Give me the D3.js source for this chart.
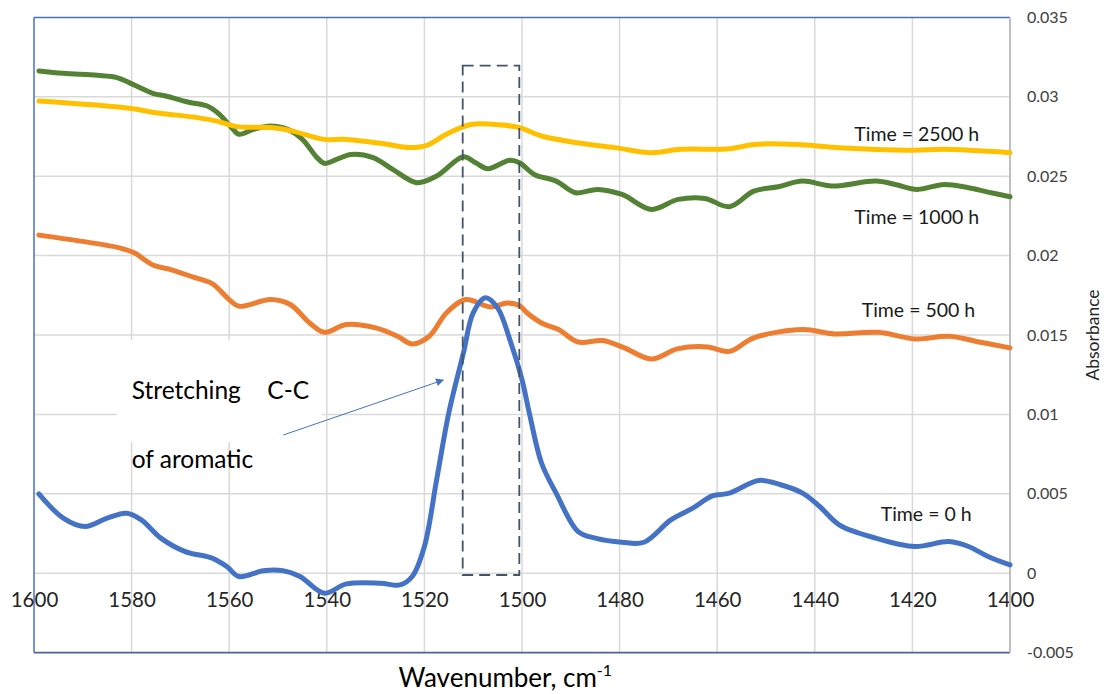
<!DOCTYPE html>
<html>
<head>
<meta charset="utf-8">
<script src="https://cdn.jsdelivr.net/npm/d3@7"></script>
<style>
  html, body { margin: 0; padding: 0; background: #fff; }
  svg { display: block; font-family: Lato, "Noto Sans", sans-serif; }
</style>
</head>
<body>
<svg id="chart" width="1104" height="694"></svg>
<script>
// ---------- DATA ----------
const xTicks = [1600, 1580, 1560, 1540, 1520, 1500, 1480, 1460, 1440, 1420, 1400];
const yTicks = [-0.005, 0, 0.005, 0.01, 0.015, 0.02, 0.025, 0.03, 0.035];
const yTickLabels = ["-0.005", "0", "0.005", "0.01", "0.015", "0.02", "0.025", "0.03", "0.035"];

const wn0 = [1599,1594,1589.5,1585,1581,1578,1574,1569,1563.5,1560.5,1558,1553,1549,1545.5,1540.5,1536,1529,1525,1522.5,1520,1517.5,1515,1512,1510,1507.5,1505,1502.5,1500,1498.5,1496,1493,1488.5,1485,1479.5,1475,1469.5,1465,1461,1457.5,1451.5,1447,1442.5,1439,1435,1427.5,1419.5,1412.5,1408.5,1404.5,1400];
const abs0 = [0.0050,0.00347,0.00294,0.00347,0.00378,0.00336,0.00221,0.00136,0.00095,0.00042,-0.00021,0.00016,0.00016,-0.00021,-0.00126,-0.00067,-0.00063,-0.00074,-0.00021,0.00168,0.00588,0.01009,0.01387,0.01639,0.01734,0.01671,0.01471,0.01219,0.01009,0.00694,0.00504,0.00262,0.00221,0.00195,0.00195,0.00336,0.00410,0.00487,0.00504,0.00584,0.00557,0.00504,0.00420,0.00305,0.00221,0.00168,0.00199,0.00168,0.00105,0.00052];

const wn500 = [1599,1590.5,1582.5,1579.5,1575.5,1572,1567.5,1563.5,1560,1558,1551.5,1547.5,1543.5,1540.5,1536,1530,1525.5,1522.5,1519,1515.5,1511.5,1506.5,1503,1500.5,1499,1496,1492.5,1488.5,1483.5,1479,1473.5,1468,1462,1457.5,1452.5,1442.5,1436,1427,1419.5,1412.5,1406,1400];
const abs500 = [0.02129,0.02091,0.02049,0.02018,0.01939,0.01912,0.01866,0.01824,0.01723,0.01681,0.01723,0.01692,0.01576,0.01517,0.01566,0.01545,0.01492,0.01444,0.01492,0.01639,0.01723,0.01677,0.01702,0.01685,0.01640,0.01576,0.01534,0.01456,0.01465,0.01419,0.01349,0.01414,0.01425,0.01397,0.01482,0.01534,0.01507,0.01517,0.01475,0.01492,0.01454,0.01419];

const wn1000 = [1599,1594,1587,1583,1580.5,1575.5,1573,1568.5,1564.5,1562,1559.5,1558,1555,1551.5,1548,1545,1542,1540.5,1538,1535,1530.5,1526.5,1521.5,1517.5,1512,1509.5,1507,1502.5,1500.5,1497.5,1493,1489,1484.5,1479.5,1473.5,1468,1462.5,1457.5,1452.5,1447.5,1442.5,1436.5,1427.5,1423.5,1419,1413.5,1408.5,1404.5,1400];
const abs1000 = [0.03163,0.03148,0.03135,0.03121,0.03089,0.03020,0.03005,0.02967,0.02942,0.02890,0.02806,0.02764,0.02795,0.02816,0.02795,0.02732,0.02617,0.02581,0.02606,0.02637,0.02617,0.02543,0.02459,0.02501,0.02623,0.02585,0.02547,0.02601,0.02585,0.02511,0.02469,0.02396,0.02417,0.02385,0.02291,0.02354,0.02360,0.02308,0.02406,0.02434,0.02469,0.02438,0.02469,0.02448,0.02417,0.02448,0.02427,0.02400,0.02371];

const wn2500 = [1599,1580.5,1575,1566.5,1562.5,1558.5,1551.5,1547,1540.5,1536.5,1529,1523,1519.5,1515.5,1510.5,1504,1500.5,1496,1488,1481,1473.5,1467.5,1457.5,1452.5,1443.5,1436.5,1420,1413.5,1400];
const abs2500 = [0.02973,0.02928,0.02900,0.02869,0.02847,0.02812,0.02806,0.02784,0.02732,0.02732,0.02707,0.02680,0.02694,0.02764,0.02826,0.02822,0.02806,0.02753,0.02707,0.02680,0.02648,0.02669,0.02673,0.02700,0.02700,0.02683,0.02664,0.02669,0.02648];

const seriesNames = ["Time = 500 h", "Time = 0 h", "Time = 1000 h", "Time = 2500 h"];
const seriesColors = ["#ED7D31", "#4472C4", "#548235", "#FFC000"];

// ---------- LAYOUT ----------
const svg = d3.select("#chart");
const pL = 34, pR = 1010, pT = 17.4, pB = 652.6;

const x = d3.scaleLinear().domain([1600, 1400]).range([pL, pR]);
const y = d3.scaleLinear().domain([-0.005, 0.035]).range([pB, pT]);

svg.append("rect").attr("width", 1104).attr("height", 694).attr("fill", "#fff");

// gridlines
const grid = svg.append("g");
grid.selectAll(".vg").data(xTicks.slice(1, -1)).enter().append("line")
  .attr("x1", d => x(d)).attr("x2", d => x(d))
  .attr("y1", pT).attr("y2", pB)
  .attr("stroke", "#D9D9D9").attr("stroke-width", 1.5);
grid.selectAll(".hg").data(yTicks.slice(1, -1)).enter().append("line")
  .attr("x1", pL).attr("x2", pR)
  .attr("y1", d => y(d)).attr("y2", d => y(d))
  .attr("stroke", "#D9D9D9").attr("stroke-width", 1.5);

// white box behind annotation text
svg.append("rect").attr("x", 117).attr("y", 340).attr("width", 205).attr("height", 102).attr("fill", "#fff");

// border
svg.append("line").attr("x1", pL).attr("x2", pL).attr("y1", pT).attr("y2", pB).attr("stroke", "#4472C4").attr("stroke-width", 1.5);
svg.append("line").attr("x1", pL).attr("x2", pR).attr("y1", pT).attr("y2", pT).attr("stroke", "#4472C4").attr("stroke-width", 1.5);
svg.append("line").attr("x1", pL).attr("x2", pR).attr("y1", pB).attr("y2", pB).attr("stroke", "#4C6399").attr("stroke-width", 1.8);

// x axis (labels along zero line)
const xAxis = d3.axisBottom(x).tickValues(xTicks).tickSize(0).tickPadding(24).tickFormat(d3.format("d"));
const gx = svg.append("g").attr("transform", `translate(0,${y(0)})`).call(xAxis);
gx.select(".domain").remove();
gx.selectAll("text").attr("font-size", 20.5).attr("fill", "#262626").attr("font-family", "Lato, 'Noto Sans', sans-serif").attr("dy", "0.5em");

// right axis
const yAxis = d3.axisRight(y).tickValues(yTicks).tickSize(0).tickPadding(17)
  .tickFormat((d, i) => yTickLabels[i]);
const gy = svg.append("g").attr("transform", `translate(${pR},0)`).call(yAxis);
gy.select(".domain").remove();
gy.selectAll("text").attr("font-size", 16).attr("fill", "#404040").attr("font-family", "Lato, 'Noto Sans', sans-serif");
svg.append("line").attr("x1", pR).attr("x2", pR).attr("y1", pT).attr("y2", pB).attr("stroke", "#BFBFBF").attr("stroke-width", 2);

// series lines
const allWn = [wn500, wn0, wn1000, wn2500];
const allAbs = [abs500, abs0, abs1000, abs2500];
const line = d3.line().x(d => x(d[0])).y(d => y(d[1])).curve(d3.curveCatmullRom.alpha(0.5));
allWn.forEach((wn, s) => {
  const pts = wn.map((w, i) => [w, allAbs[s][i]]);
  svg.append("path").datum(pts).attr("d", line)
    .attr("fill", "none").attr("stroke", seriesColors[s])
    .attr("stroke-width", 5).attr("stroke-linejoin", "round").attr("stroke-linecap", "round");
});

// dashed box
svg.append("rect").attr("x", 462.7).attr("y", 65.7).attr("width", 56.6).attr("height", 509.3)
  .attr("fill", "none").attr("stroke", "#44546A").attr("stroke-width", 1.8).attr("stroke-dasharray", "11,6");

// series labels
const labelPos = [[861.7, 317.3], [880.7, 520.7], [854.3, 224], [854.3, 140.7]];
seriesNames.forEach((n, i) => {
  svg.append("text").attr("x", labelPos[i][0]).attr("y", labelPos[i][1])
    .attr("font-size", 19.5).attr("fill", "#1a1a1a").text(n);
});

// annotation
const ann = svg.append("text").attr("x", 131.7).attr("y", 399.3).attr("font-size", 24.5).attr("fill", "#000");
ann.append("tspan").text("Stretching");
ann.append("tspan").attr("x", 267.3).text("C-C");
svg.append("text").attr("x", 131.7).attr("y", 468.3).attr("font-size", 24.5).attr("fill", "#000").text("of aromatic");

// arrow
svg.append("defs").append("marker").attr("id", "arr").attr("viewBox", "0 0 10 10")
  .attr("refX", 9).attr("refY", 5).attr("markerWidth", 11).attr("markerHeight", 8)
  .attr("markerUnits", "userSpaceOnUse").attr("orient", "auto")
  .append("path").attr("d", "M0,0 L10,5 L0,10 Z").attr("fill", "#4472C4");
svg.append("line").attr("x1", 283.3).attr("y1", 435).attr("x2", 443.3).attr("y2", 380)
  .attr("stroke", "#4472C4").attr("stroke-width", 1).attr("marker-end", "url(#arr)");

// axis titles
const xt = svg.append("text").attr("x", 398.5).attr("y", 687).attr("font-size", 26).attr("fill", "#000");
xt.append("tspan").text("Wavenumber, cm");
xt.append("tspan").attr("font-size", 16).attr("dy", -11).text("-1");
svg.append("text").attr("transform", "translate(1099,335) rotate(-90)")
  .attr("text-anchor", "middle").attr("font-size", 17.5).attr("fill", "#262626").text("Absorbance");
</script>
</body>
</html>
